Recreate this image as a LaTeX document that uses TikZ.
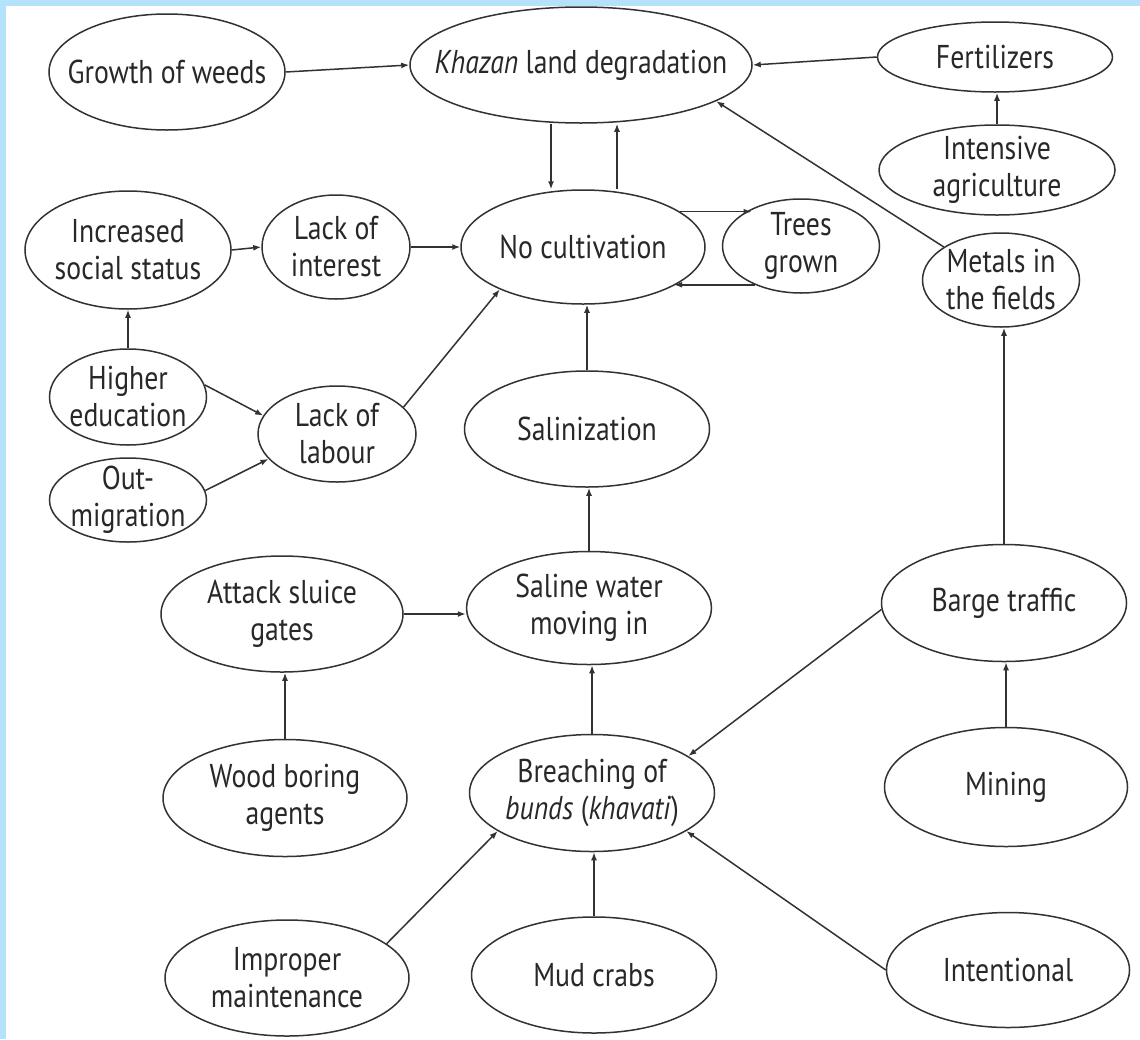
\documentclass[tikz,border=0pt]{standalone}
\usepackage{fontspec}
\setmainfont{PT Sans}[FakeStretch=0.84]
\usetikzlibrary{shapes.geometric,arrows.meta}
\definecolor{bord}{RGB}{180,226,250}
\definecolor{ink}{RGB}{50,50,50}
\definecolor{tink}{RGB}{40,40,40}
\begin{document}
\begin{tikzpicture}[x=1pt,y=-1pt,
  ell/.style={ellipse,draw=ink,line width=1.5pt,inner sep=0pt},
  txt/.style={align=center,text=tink,inner sep=0pt,font=\fontsize{33}{37}\selectfont},
  arr/.style={-{Latex[length=8pt,width=6pt]},draw=ink,line width=1.5pt}]
\fill[white] (0,0) rectangle (1140,1039);
\fill[bord] (0,0) rectangle (1140,6);
\fill[bord] (0,0) rectangle (6,1039);
\useasboundingbox (0,0) rectangle (1140,1039);

\node[ell,minimum width=236pt,minimum height=116pt,label={[txt,name=weeds-t]center:Growth of weeds}] (weeds) at (167,72) {};
\node[ell,minimum width=342pt,minimum height=116pt,label={[txt,name=khazan-t]center:\textit{Khazan} land degradation}] (khazan) at (581,65) {};
\node[ell,minimum width=235pt,minimum height=70pt,label={[txt,name=fert-t]center:Fertilizers}] (fert) at (995,57) {};
\node[ell,minimum width=236pt,minimum height=90pt,label={[txt,name=intens-t]center:Intensive\\agriculture}] (intens) at (997,170) {};
\node[ell,minimum width=206pt,minimum height=118pt,label={[txt,name=social-t]center:Increased\\social status}] (social) at (128,250) {};
\node[ell,minimum width=148pt,minimum height=104pt,label={[txt,name=interest-t]center:Lack of\\interest}] (interest) at (336,247) {};
\node[ell,minimum width=244pt,minimum height=114pt,label={[txt,name=nocult-t]center:No cultivation}] (nocult) at (583,247) {};
\node[ell,minimum width=157pt,minimum height=94pt,label={[txt,name=trees-t]center:Trees\\grown}] (trees) at (801,246) {};
\node[ell,minimum width=157pt,minimum height=94pt,label={[txt,name=metals-t]center:Metals in\\the fields}] (metals) at (1001,280) {};
\node[ell,minimum width=157pt,minimum height=96pt,label={[txt,name=higher-t]center:Higher\\education}] (higher) at (128,397) {};
\node[ell,minimum width=158pt,minimum height=96pt,label={[txt,name=labour-t]center:Lack of\\labour}] (labour) at (337,434) {};
\node[ell,minimum width=157pt,minimum height=84pt,label={[txt,name=outmig-t]center:Out-\\migration}] (outmig) at (128,500) {};
\node[ell,minimum width=245pt,minimum height=116pt,label={[txt,name=salin-t]center:Salinization}] (salin) at (587,429) {};
\node[ell,minimum width=242pt,minimum height=116pt,label={[txt,name=sluice-t]center:Attack sluice\\gates}] (sluice) at (282,614) {};
\node[ell,minimum width=245pt,minimum height=113pt,label={[txt,name=saline-t]center:Saline water\\moving in}] (saline) at (589,608) {};
\node[ell,minimum width=245pt,minimum height=117pt,label={[txt,name=barge-t]center:Barge traffic}] (barge) at (1004,603) {};
\node[ell,minimum width=244pt,minimum height=117pt,label={[txt,name=wood-t]center:Wood boring\\agents}] (wood) at (285,798) {};
\node[ell,minimum width=245pt,minimum height=117pt,label={[txt,name=breach-t]center:Breaching of\\\textit{bunds} (\textit{khavati})}] (breach) at (592,793) {};
\node[ell,minimum width=243pt,minimum height=119pt,label={[txt,name=mining-t]center:Mining}] (mining) at (1006,787) {};
\node[ell,minimum width=244pt,minimum height=116pt,label={[txt,name=improper-t]center:Improper\\maintenance}] (improper) at (287,978) {};
\node[ell,minimum width=245pt,minimum height=116pt,label={[txt,name=mudcrabs-t]center:Mud crabs}] (mudcrabs) at (594,975) {};
\node[ell,minimum width=243pt,minimum height=115pt,label={[txt,name=intent-t]center:Intentional}] (intent) at (1008,970) {};

\coordinate (xa) at (551,0);
\coordinate (xb) at (617,0);

\draw[arr] (weeds.east) -- (khazan.west);
\draw[arr] (fert.west) -- (khazan.east);
\draw[arr] (intens.north) -- (intens.north |- fert.south);
\draw[arr] (metals.150) -- (khazan.345);
\draw[arr] (khazan.south -| xa) -- (nocult.north -| xa);
\draw[arr] (nocult.north -| xb) -- (khazan.south -| xb);
\draw[arr] (nocult.20) -- (nocult.20 -| trees.143);
\draw[arr] (trees.220) -- (trees.220 -| nocult.337);
\draw[arr] (social.east) -- (interest.west);
\draw[arr] (interest.east) -- (nocult.west);
\draw[arr] (higher.north) -- (social.south);
\draw[arr] (higher.9) -- (labour.166);
\draw[arr] (outmig.7) -- (labour.200);
\draw[arr] (labour.22) -- (nocult.207);
\draw[arr] (salin.north) -- (salin.north |- nocult.south);
\draw[arr] (saline.north) -- (saline.north |- salin.south);
\draw[arr] (sluice.east) -- (sluice.east -| saline.west);
\draw[arr] (wood.north) -- (wood.north |- sluice.south);
\draw[arr] (breach.north) -- (breach.north |- saline.south);
\draw[arr] (mudcrabs.north) -- (mudcrabs.north |- breach.south);
\draw[arr] (improper.19) -- (breach.202);
\draw[arr] (intent.west) -- (breach.338);
\draw[arr] (barge.183) -- (breach.21);
\draw[arr] (mining.north) -- (mining.north |- barge.south);
\draw[arr] (barge.north) -- (barge.north |- metals.south);
\end{tikzpicture}
\end{document}
